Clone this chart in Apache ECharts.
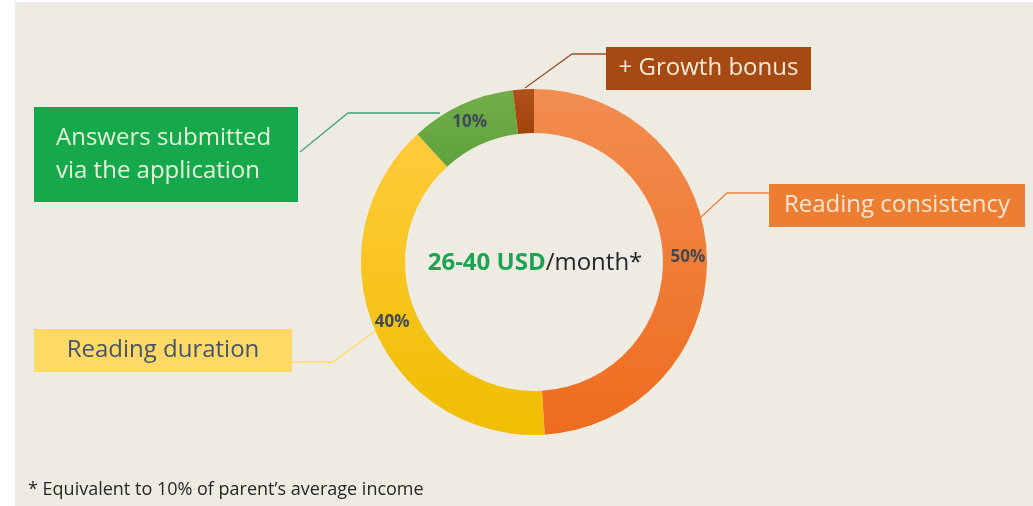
<!DOCTYPE html>
<html>
<head>
<meta charset="utf-8">
<script src="https://cdn.jsdelivr.net/npm/echarts@6/dist/echarts.min.js"></script>
<style>
html,body{margin:0;padding:0;background:#ffffff;}
#chart{width:1033px;height:506px;}
</style>
</head>
<body>
<div id="chart"></div>
<script>
// ---- data ----
const categories = ['Reading consistency', 'Reading duration', 'Answers submitted\nvia the application', '+ Growth bonus'];
const shares = [50, 40, 10, 2];
const showPct = [true, true, true, false];
const centerMain = '26-40 USD';
const centerUnit = '/month*';
const footnote = '* Equivalent to 10% of parent\u2019s average income';

// ---- styles ----
const FONT = '"Open Sans", Lato, sans-serif';
const grad = (a, b) => new echarts.graphic.LinearGradient(0, 0, 0, 1, [{offset: 0, color: a}, {offset: 1, color: b}]);
const sliceColors = [grad('#F28D50', '#EE6C1E'), grad('#FFCB3C', '#EFBE00'), grad('#72AE48', '#5FA23E'), grad('#B0501A', '#A3430C')];
const boxStyles = [
  {bg: '#ED7D31', fg: '#FCE6D6', line: '#E9853F', w: 256, h: 43, align: 'center', x: 897, y: 205.5, pts: [[700, 218], [727, 193], [769, 193]]},
  {bg: '#FFD966', fg: '#44546A', line: '#FFD966', w: 258, h: 43, align: 'center', x: 163, y: 350.5, pts: [[375, 331], [333, 362], [292, 362]]},
  {bg: '#16A94B', fg: '#E4F2DC', line: '#3FA774', w: 242, h: 95, align: 'left', x: 34, y: 154.5, pts: [[440, 113], [348, 113], [300, 152]]},
  {bg: '#A54A13', fg: '#FCE9D8', line: '#9C5428', w: 205, h: 43, align: 'center', x: 708.5, y: 68.5, pts: [[525, 88], [572, 54], [606, 54]]}
];

const ringData = categories.map((n, i) => ({
  name: n, value: shares[i],
  itemStyle: {color: sliceColors[i]},
  label: {show: showPct[i]}
}));
const calloutData = categories.map((n, i) => {
  const s = boxStyles[i];
  const lab = {
    backgroundColor: s.bg, color: s.fg, width: s.w, align: s.align,
    fontSize: 24, fontFamily: FONT, overflow: 'none'
  };
  if (s.align === 'left') {
    lab.lineHeight = 33; lab.padding = [14, 0, 15, 22];
  } else {
    lab.lineHeight = s.h; lab.padding = 0;
  }
  return {name: n, value: shares[i], label: lab, labelLine: {lineStyle: {color: s.line, width: 1.3}}};
});

const chart = echarts.init(document.getElementById('chart'), null, {renderer: 'canvas'});
chart.setOption({
  animation: false,
  backgroundColor: '#ffffff',
  graphic: [
    {type: 'rect', z: -10, shape: {x: 15, y: 2, width: 1018, height: 504}, style: {fill: '#EEEBE3'}},
    {type: 'text', x: 535, y: 263, style: {
      rich: {g: {fill: '#1BA552', fontWeight: 'bold', fontSize: 24, fontFamily: FONT},
             d: {fill: '#262626', fontSize: 24, fontFamily: FONT}},
      text: '{g|' + centerMain + '}{d|' + centerUnit + '}', align: 'center', verticalAlign: 'middle'}},
    {type: 'text', x: 28, y: 490, style: {text: footnote, fill: '#262626', fontSize: 18, fontFamily: FONT, align: 'left', verticalAlign: 'middle'}}
  ],
  series: [
    {
      type: 'pie', center: [534, 262], radius: [129, 173], startAngle: 90, clockwise: true,
      silent: true, data: ringData,
      label: {position: 'inside', formatter: p => p.value + '%', color: '#3E4A56', fontWeight: 'bold', fontSize: 17, fontFamily: FONT},
      labelLine: {show: false}
    },
    {
      type: 'pie', center: [534, 262], radius: [129, 173], startAngle: 90, clockwise: true,
      silent: true, data: calloutData,
      itemStyle: {color: 'rgba(0,0,0,0)'},
      label: {show: true, position: 'outside', formatter: p => p.name},
      labelLine: {show: true, smooth: false},
      labelLayout: function (p) {
        const s = boxStyles[p.dataIndex];
        return {x: s.x, y: s.y, align: s.align, verticalAlign: 'middle', labelLinePoints: s.pts};
      }
    }
  ]
});
</script>
</body>
</html>
